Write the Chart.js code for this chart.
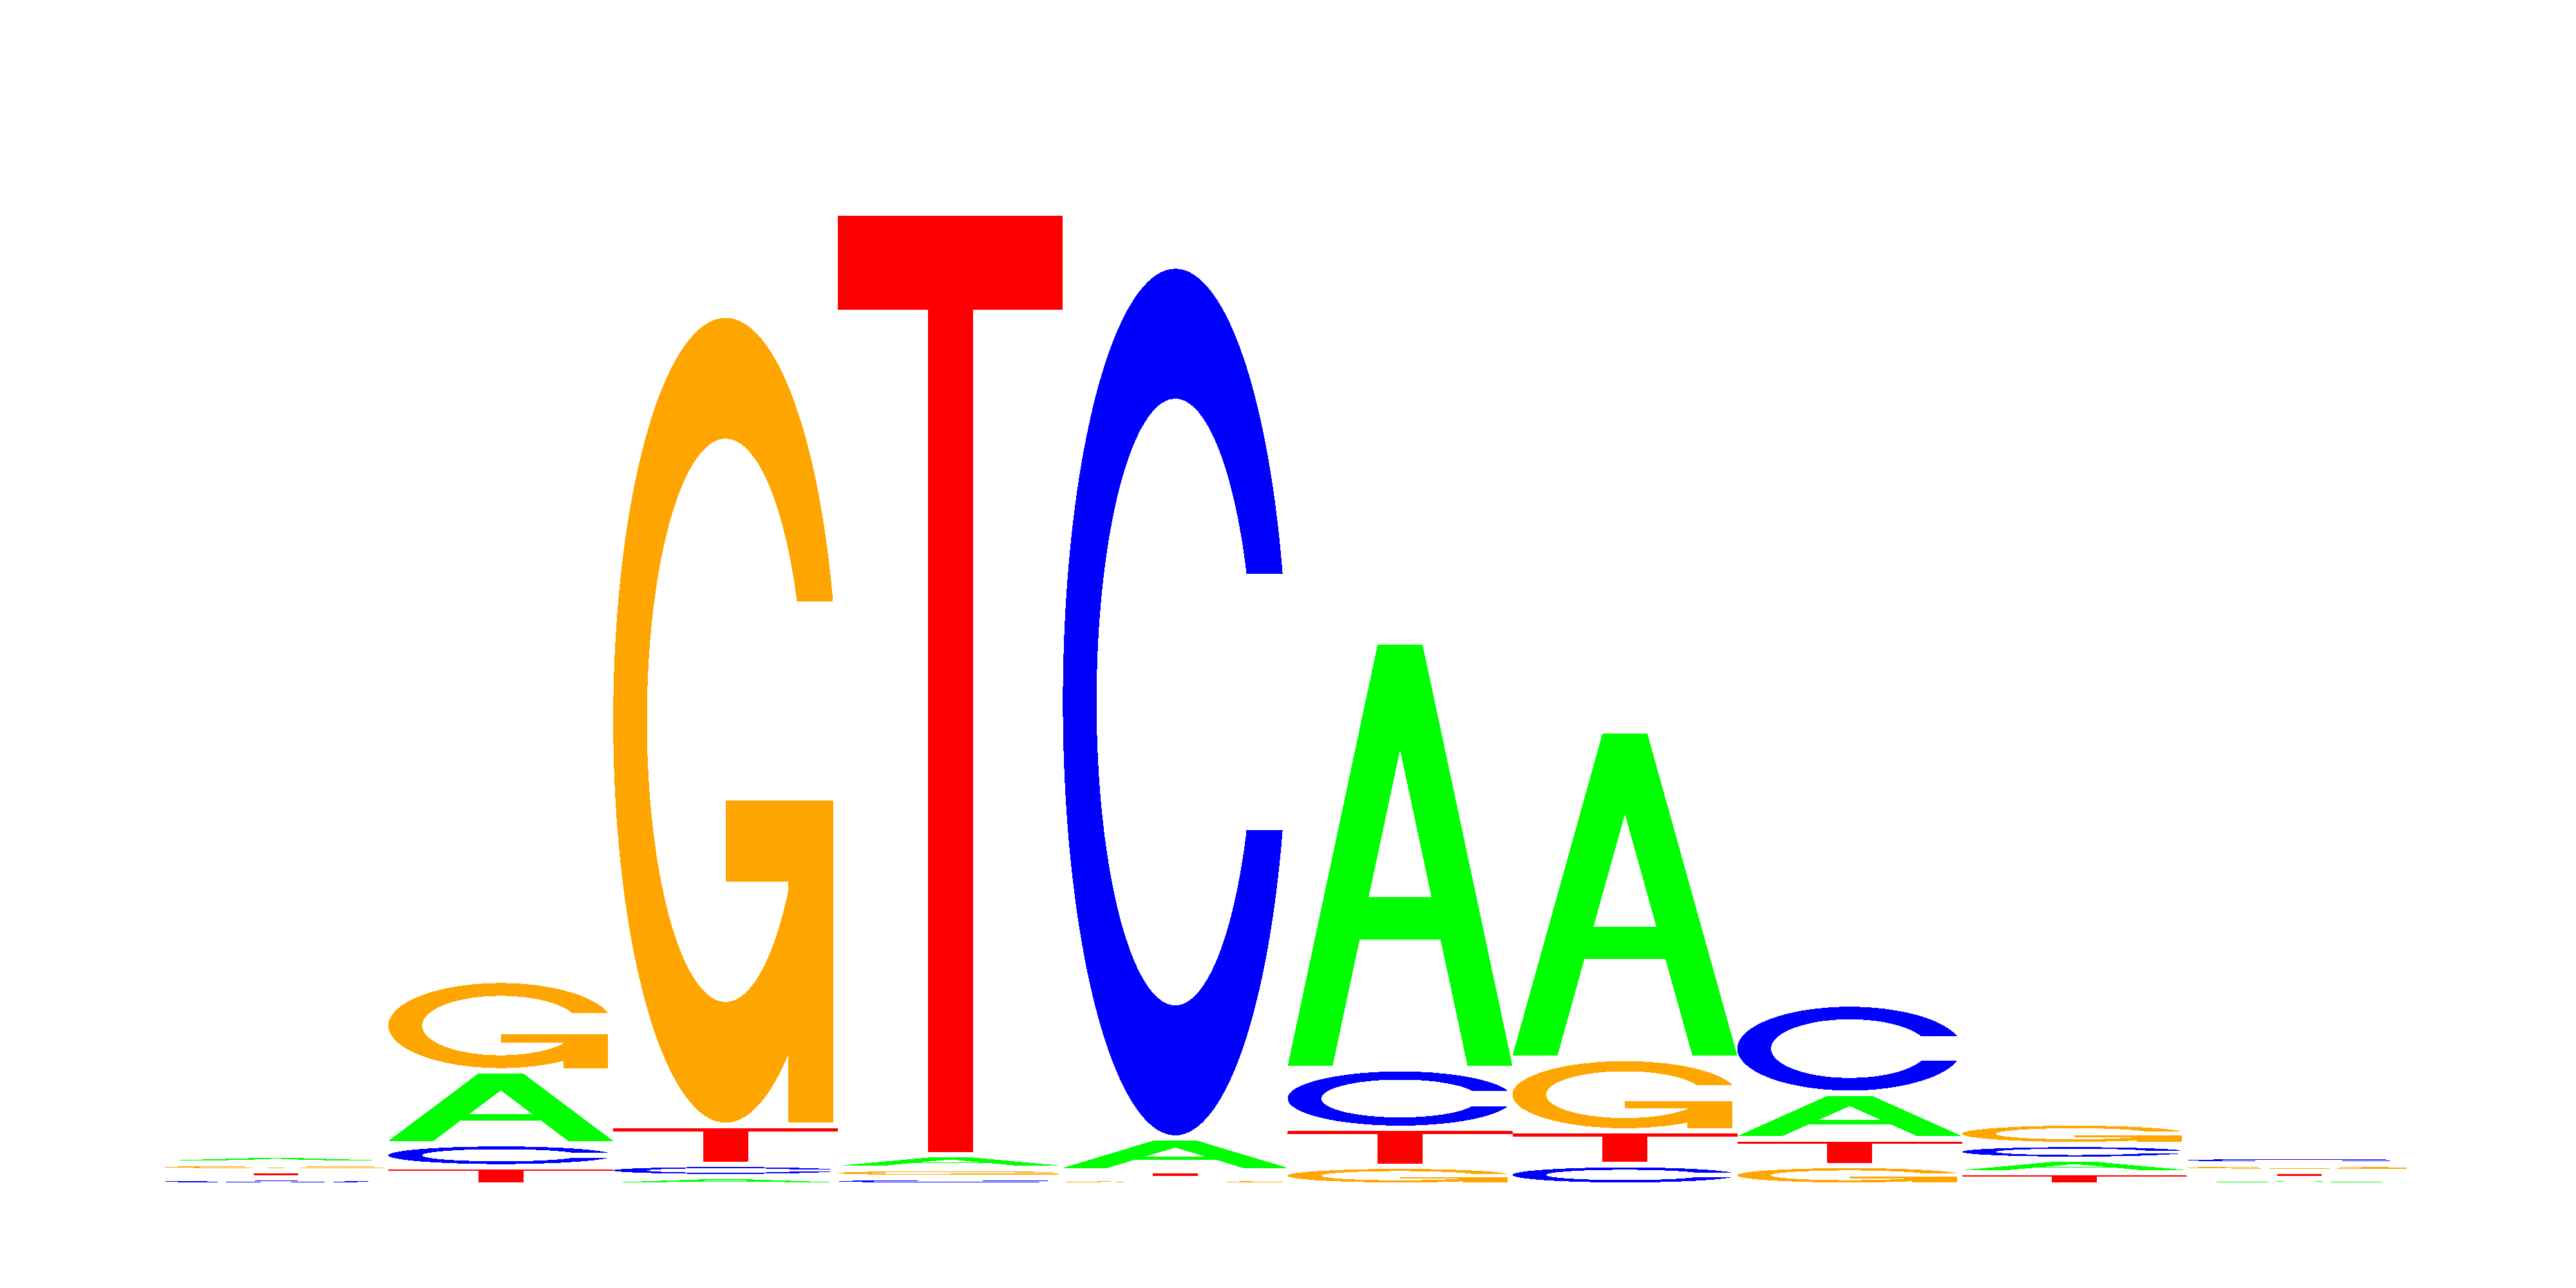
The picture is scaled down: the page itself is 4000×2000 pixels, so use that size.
<!DOCTYPE html>
<html>
<head>
<meta charset="utf-8">
<title>Sequence logo</title>
<script src="https://cdn.jsdelivr.net/npm/chart.js@4.4.1/dist/chart.umd.min.js"></script>
<style>
    html, body { margin: 0; padding: 0; background: #ffffff; overflow: hidden; }
    #logo { display: block; }
</style>
</head>
<body>
<canvas id="logo" width="4000" height="2000" style="width:4000px;height:2000px"></canvas>
<script>
// information content (bits) per letter, per position
const positions = ['1', '2', '3', '4', '5', '6', '7', '8', '9', '10'];
const bitsA = [0.005, 0.131, 0.006, 0.016, 0.0525, 0.818, 0.625, 0.078, 0.016, 0.002];
const bitsC = [0.003, 0.034, 0.013, 0.004, 1.682, 0.105, 0.029, 0.1625, 0.018, 0.0041];
const bitsG = [0.0038, 0.165, 1.562, 0.007, 0.002, 0.026, 0.130, 0.0275, 0.031, 0.0036];
const bitsT = [0.0034, 0.025, 0.065, 1.817, 0.005, 0.063, 0.055, 0.041, 0.013, 0.0034];

const letterColors = { A: '#00ff00', C: '#0000ff', G: '#ffa500', T: '#ff0000' };
const letterGap = 8.5; // px between stacked letters

// letter outlines in a unit box (y up), same shapes as seqLogo
const shapeA = [[0, 0], [0.4, 1], [0.6, 1], [1, 0], [0.8, 0], [0.68, 0.3], [0.32, 0.3], [0.2, 0]];
const holeA = [[0.36, 0.4], [0.5, 0.75], [0.64, 0.4]];
const shapeT = [[0, 1], [1, 1], [1, 0.9], [0.6, 0.9], [0.6, 0], [0.4, 0], [0.4, 0.9], [0, 0.9]];

function ringC() {
    const n = 100;
    const a1 = [], a2 = [];
    for (let i = 0; i < n; i++) {
        a1.push(0.3 + Math.PI / 2 + (Math.PI / 2 - 0.3) * i / (n - 1));
        a2.push(Math.PI + (Math.PI / 2) * i / (n - 1));
    }
    const out = a1.concat(a2).map(a => [0.5 + 0.5 * Math.sin(a), 0.5 + 0.5 * Math.cos(a)]);
    const yMax = Math.max(...a1.map(a => 0.5 + 0.5 * Math.cos(a)));
    let in1 = a1.map(a => [0.5 + 0.35 * Math.sin(a), 0.5 + 0.35 * Math.cos(a)]).filter(p => p[1] <= yMax);
    in1[0] = [in1[0][0], yMax];
    const inn = in1.concat(a2.map(a => [0.5 + 0.35 * Math.sin(a), 0.5 + 0.35 * Math.cos(a)]));
    const outer = out.concat(out.slice().reverse().map(p => [p[0], 1 - p[1]]));
    const inner = inn.concat(inn.slice().reverse().map(p => [p[0], 1 - p[1]]));
    return { poly: outer.concat(inner.reverse()), r1: 0.5 + 0.5 * Math.cos(0.3) };
}
const shapeC = ringC();
const barG = [[shapeC.r1, 0.4], [0.5, 0.4], [0.5, 0.3], [shapeC.r1 - 0.2, 0.3], [shapeC.r1 - 0.2, 0], [shapeC.r1, 0]];

function tracePoly(ctx, pts, x0, yb, w, h) {
    ctx.moveTo(x0 + pts[0][0] * w, yb - pts[0][1] * h);
    for (let i = 1; i < pts.length; i++) {
        ctx.lineTo(x0 + pts[i][0] * w, yb - pts[i][1] * h);
    }
    ctx.closePath();
}

function drawLetter(ctx, letter, x0, yb, w, h) {
    ctx.fillStyle = letterColors[letter];
    ctx.beginPath();
    if (letter === 'A') {
        tracePoly(ctx, shapeA, x0, yb, w, h);
        tracePoly(ctx, holeA, x0, yb, w, h);
        ctx.fill('evenodd');
        return;
    }
    if (letter === 'T') {
        tracePoly(ctx, shapeT, x0, yb, w, h);
        ctx.fill();
        return;
    }
    tracePoly(ctx, shapeC.poly, x0, yb, w, h);
    ctx.fill();
    if (letter === 'G') {
        ctx.beginPath();
        tracePoly(ctx, barG, x0, yb, w, h);
        ctx.fill();
    }
}

const logoPlugin = {
    id: 'logoLetters',
    afterDatasetsDraw(chart) {
        const xs = chart.scales.x;
        const ys = chart.scales.y;
        const colW = (chart.chartArea.right - chart.chartArea.left) / positions.length;

        // letters go on a scratch canvas first so the edges can be made hard (no anti-aliasing)
        const off = document.createElement('canvas');
        off.width = chart.width;
        off.height = chart.height;
        const octx = off.getContext('2d');

        positions.forEach((p, i) => {
            // smallest letter at the bottom, tallest on top
            const stack = chart.data.datasets
                .map(ds => ({ letter: ds.label, v: ds.data[i] }))
                .sort((a, b) => a.v - b.v);
            const x0 = xs.getPixelForValue(i) - colW / 2;
            let cum = 0;
            stack.forEach((s, k) => {
                const yb = ys.getPixelForValue(cum) - k * letterGap;
                const yt = ys.getPixelForValue(cum + s.v) - k * letterGap;
                drawLetter(octx, s.letter, x0, yb, colW, yb - yt);
                cum += s.v;
            });
        });

        const img = octx.getImageData(0, 0, off.width, off.height);
        const px = img.data;
        for (let j = 3; j < px.length; j += 4) {
            px[j] = px[j] >= 128 ? 255 : 0;
        }
        octx.putImageData(img, 0, 0);

        chart.ctx.save();
        chart.ctx.drawImage(off, 0, 0);
        chart.ctx.restore();
    }
};

new Chart(document.getElementById('logo'), {
    type: 'bar',
    data: {
        labels: positions,
        datasets: [
            { label: 'A', data: bitsA, backgroundColor: 'rgba(0,0,0,0)' },
            { label: 'C', data: bitsC, backgroundColor: 'rgba(0,0,0,0)' },
            { label: 'G', data: bitsG, backgroundColor: 'rgba(0,0,0,0)' },
            { label: 'T', data: bitsT, backgroundColor: 'rgba(0,0,0,0)' },
        ],
    },
    options: {
        responsive: false,
        devicePixelRatio: 1,
        animation: false,
        layout: { padding: { left: 254, right: 255, top: 236, bottom: 164 } },
        plugins: {
            legend: { display: false },
            tooltip: { enabled: false },
            title: { display: false },
        },
        scales: {
            x: { display: false, offset: true },
            y: { display: false, min: 0, max: 2 },
        },
    },
    plugins: [logoPlugin],
});
</script>
</body>
</html>
